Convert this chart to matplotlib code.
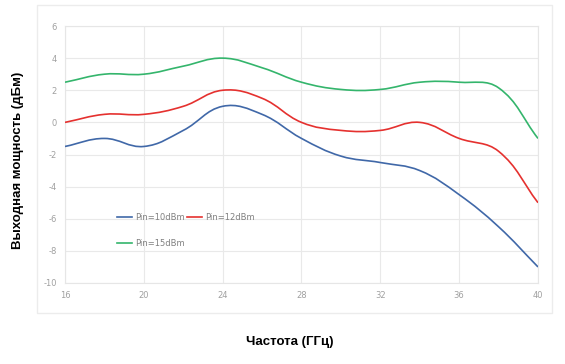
import matplotlib
matplotlib.use("Agg")
import matplotlib.pyplot as plt
import numpy as np
from matplotlib.path import Path
from matplotlib.patches import PathPatch, Rectangle
from matplotlib.lines import Line2D

plt.rcParams["axes.unicode_minus"] = False

# data (every 2 GHz)
freq = [16, 18, 20, 22, 24, 26, 28, 30, 32, 34, 36, 38, 40]
pin10 = [-1.5, -1.0, -1.5, -0.5, 1.0, 0.5, -1.0, -2.1, -2.5, -3.0, -4.5, -6.5, -9.0]
pin12 = [0.0, 0.5, 0.5, 1.0, 2.0, 1.5, 0.0, -0.5, -0.5, 0.0, -1.0, -1.8, -5.0]
pin15 = [2.5, 3.0, 3.0, 3.5, 4.0, 3.4, 2.5, 2.05, 2.05, 2.5, 2.5, 2.15, -1.0]
labels = ["Pin=10dBm", "Pin=12dBm", "Pin=15dBm"]
colors = ["#4068a8", "#e5312f", "#34b56c"]
xticks = [16, 20, 24, 28, 32, 36, 40]
yticks = [-10, -8, -6, -4, -2, 0, 2, 4, 6]


def smooth_path(x, y, yscale, tension=0.4):
    # chart.js style bezier control points (y scaled to pixel aspect)
    x = np.asarray(x, float)
    y = np.asarray(y, float)
    n = len(x)
    verts = [(x[0], y[0])]
    codes = [Path.MOVETO]
    cin = [None] * n
    cout = [None] * n
    for i in range(n):
        p0 = i - 1 if i > 0 else i
        p2 = i + 1 if i < n - 1 else i
        d01 = np.hypot(x[i] - x[p0], (y[i] - y[p0]) * yscale)
        d12 = np.hypot(x[p2] - x[i], (y[p2] - y[i]) * yscale)
        tot = d01 + d12
        fa = tension * d01 / tot if tot else 0
        fb = tension * d12 / tot if tot else 0
        dx = x[p2] - x[p0]
        dy = y[p2] - y[p0]
        cin[i] = (x[i] - fa * dx, y[i] - fa * dy)
        cout[i] = (x[i] + fb * dx, y[i] + fb * dy)
    for i in range(1, n):
        verts += [cout[i - 1], cin[i], (x[i], y[i])]
        codes += [Path.CURVE4] * 3
    return Path(verts, codes)


fig = plt.figure(figsize=(5.65, 3.64), dpi=100)
ax = fig.add_axes([65 / 565, 1 - 283 / 364, (538 - 65) / 565, (283 - 26) / 364])

# outer light frame
fig.patches.append(Rectangle((37 / 565, 1 - 313 / 364), (552 - 37) / 565, (313 - 5) / 364,
                             transform=fig.transFigure, fill=False, edgecolor="#ececec", lw=1))

yscale = (257 / 16) / (473 / 24)
handles = []
for ys, c, lab in zip([pin10, pin12, pin15], colors, labels):
    ax.add_patch(PathPatch(smooth_path(freq, ys, yscale), fill=False, edgecolor=c, lw=1.2, zorder=3))
    handles.append(Line2D([], [], color=c, lw=1.2, label=lab))

ax.set_xlim(16, 40)
ax.set_ylim(-10, 6)
ax.set_xticks(xticks)
ax.set_yticks(yticks)
ax.grid(True, color="#e9e9e9", lw=0.8)
ax.set_axisbelow(True)
for s in ax.spines.values():
    s.set_color("#e6e6e6")
    s.set_linewidth(0.8)
ax.tick_params(length=0, labelsize=6, labelcolor="#a0a0a0", pad=6)

# legend: blue, red in first row, green in second
leg = ax.legend([handles[0], handles[2], handles[1]], [labels[0], labels[2], labels[1]],
                ncol=2, loc="upper left", bbox_to_anchor=(113 / 565, 1 - 209 / 364),
                bbox_transform=fig.transFigure, frameon=False, fontsize=6,
                handlelength=1.8, handletextpad=0.35, columnspacing=0.25,
                labelspacing=2.0, borderpad=0)
for t in leg.get_texts():
    t.set_color("#808080")

fig.text(18 / 565, 1 - 160 / 364, "Выходная мощность (дБм)", rotation=90, ha="center",
         va="center", fontsize=9.5, fontweight="bold", family="Liberation Sans")
fig.text(290 / 565, 1 - 342 / 364, "Частота (ГГц)", ha="center", va="center",
         fontsize=9.5, fontweight="bold", family="Liberation Sans")

fig.savefig("out.png", dpi=100)
